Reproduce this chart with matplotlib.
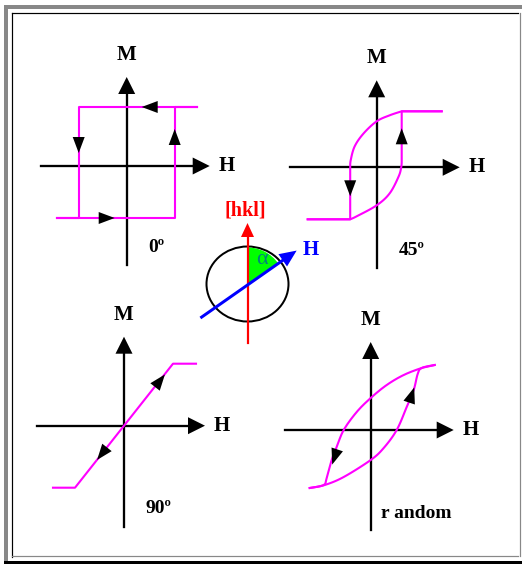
import matplotlib
matplotlib.use("Agg")
import matplotlib.pyplot as plt
import numpy as np
from matplotlib.patches import Ellipse, Rectangle, Wedge

# --- data: magnetisation loops (H, M) in pixel-sized units, origin at axes cross ---
loop0_up_H = [-70, 48, 48, 70]
loop0_up_M = [-52, -52, 59, 59]
loop0_down_H = [70, -48, -48, -70]
loop0_down_M = [59, 59, -52, -52]
loop0_arrows = [(23, 59, -1, 0), (-48, 21, 0, -1), (48, 29, 0, 1), (-20, -52, 1, 0)]

loop45_down_H = [65, 25, 13, 0, -13, -22, -26, -26.5, -26.5, -69]
loop45_down_M = [56, 56, 52, 46, 34, 21, 7, 0, -52, -52]
loop45_up_H = [-69, -26.5, -20, 0, 13, 22, 24.5, 25, 25, 65]
loop45_up_M = [-52, -52, -49, -38, -26, -9, 0, 5, 56, 56]
loop45_arrows = [(-26.5, -21, 0, -1), (25, 31, 0, 1)]

line90_H = [-71, -49, 49, 72]
line90_M = [-62, -62, 62, 62]
line90_arrows = [(36, 45, 49, 62), (-22, -28, -49, -62)]

rand_down_H = [64, 51, 33, 16, 0, -14, -27, -34, -39, -44, -47, -61]
rand_down_M = [65, 62, 55, 45, 32, 18, 0, -17, -30, -48, -55, -58]
rand_up_H = [-61, -46, -27, 0, 13, 26, 36, 43, 47, 51, 64]
rand_up_M = [-58, -55, -47, -30, -18, 0, 23, 40, 56, 62, 65]
rand_arrows = [(41, 35, 1, 3), (-36, -27, -1, -3)]

angle_labels = ["0º", "45º", "90º", "r andom"]
alpha_deg = 55  # angle between [hkl] and H

# --- layout (pixels) ---
W, HPX = 522, 564
MAGENTA = "#FF00FF"
PX = 72 / 100  # points per pixel
SERIF = "Liberation Serif"

fig = plt.figure(figsize=(W / 100, HPX / 100), dpi=100)

bg = fig.add_axes([0, 0, 1, 1])
bg.set_xlim(0, W)
bg.set_ylim(HPX, 0)
bg.axis("off")
gray = "#888888"
bg.add_patch(Rectangle((4, 5), 4, 556, color=gray, lw=0))
bg.add_patch(Rectangle((4, 5), 518, 4, color=gray, lw=0))
bg.add_patch(Rectangle((4, 561), 518, 3, color="black", lw=0))
bg.plot([12, 12], [13, 556.5], color="black", lw=1.2 * PX)
bg.plot([12, 517.5], [13, 13], color="black", lw=1.2 * PX)
bg.plot([519.5, 519.5], [13, 556], color=gray, lw=1.2 * PX)
bg.plot([12, 517.5], [556, 556], color=gray, lw=1.2 * PX)


def sub_axes(cx, cy, r=120):
    ax = fig.add_axes([(cx - r) / W, 1 - (cy + r) / HPX, 2 * r / W, 2 * r / HPX])
    ax.set_xlim(-r, r)
    ax.set_ylim(-r, r)
    ax.axis("off")
    return ax


def smooth(h, m, i0, i1, n=12):
    # Catmull-Rom through the read points i0..i1, straight elsewhere
    p = np.column_stack([h, m]).astype(float)
    out = [p[:i0]]
    for i in range(i0, i1):
        p0 = p[max(i - 1, i0)]
        p1, p2 = p[i], p[i + 1]
        p3 = p[min(i + 2, i1)]
        t = np.linspace(0, 1, n, endpoint=False)[:, None]
        seg = 0.5 * (2 * p1 + (-p0 + p2) * t + (2 * p0 - 5 * p1 + 4 * p2 - p3) * t ** 2
                     + (-p0 + 3 * p1 - 3 * p2 + p3) * t ** 3)
        out.append(seg)
    out.append(p[i1:])
    q = np.vstack(out)
    return q[:, 0], q[:, 1]


def head(ax, tip, direction, length, width, color="black"):
    tip = np.asarray(tip, float)
    d = np.asarray(direction, float)
    d = d / np.hypot(*d)
    n = np.array([-d[1], d[0]])
    base = tip - d * length
    pts = np.array([tip, base + n * width / 2, base - n * width / 2])
    ax.fill(pts[:, 0], pts[:, 1], color=color, lw=0, zorder=5)


def draw_panel(cx, cy, extent, branches, arrows, label, label_pos):
    ax = sub_axes(cx, cy)
    left, right, bottom, top = extent
    hl = 17
    ax.plot([left, right - hl + 2], [0, 0], color="black", lw=2.3 * PX)
    head(ax, (right, 0), (1, 0), hl, 17)
    ax.plot([0, 0], [bottom, top - hl + 2], color="black", lw=2.3 * PX)
    head(ax, (0, top), (0, 1), hl, 17)
    for hx, my in branches:
        ax.plot(hx, my, color=MAGENTA, lw=2.1 * PX, solid_joinstyle="round")
    for x, y, dx, dy in arrows:
        d = np.array([dx, dy], float)
        d /= np.hypot(*d)
        head(ax, (x + d[0] * 8, y + d[1] * 8), d, 16, 12)
    tf = dict(family=SERIF, weight="bold", fontsize=15, ha="center", va="center")
    ax.text(0, top + 22, "M", **tf)
    ax.text(right + 9, 0, "H", **dict(tf, ha="left"))
    ax.text(label_pos[0], label_pos[1], label, **dict(tf, fontsize=14))
    return ax


draw_panel(126.7, 166, (-86, 83, -99, 89),
           [(loop0_up_H, loop0_up_M), (loop0_down_H, loop0_down_M)],
           loop0_arrows, angle_labels[0], (30, -82))
draw_panel(376.7, 167.3, (-87, 83, -101, 87),
           [smooth(loop45_up_H, loop45_up_M, 1, 7), smooth(loop45_down_H, loop45_down_M, 1, 7)],
           loop45_arrows, angle_labels[1], (35, -83))
draw_panel(124, 425.7, (-87, 81, -101, 89),
           [(line90_H, line90_M)],
           line90_arrows, angle_labels[2], (34, -83))
draw_panel(370.7, 430, (-86, 83, -100, 88),
           [smooth(rand_up_H, rand_up_M, 0, 10), smooth(rand_down_H, rand_down_M, 0, 11)],
           rand_arrows, angle_labels[3], (46, -83))

# --- central sketch: crystal direction [hkl] and applied field H ---
cax = sub_axes(247.5, 284, r=80)
cax.add_patch(Ellipse((0, 0), 82, 75, fill=False, ec="black", lw=2 * PX, zorder=1))
a = np.deg2rad(alpha_deg)
hdir = np.array([np.sin(a), np.cos(a)])
cax.add_patch(Wedge((0, -1), 37.5, 90 - alpha_deg, 90, color="#00FF00", lw=0, zorder=2))
cax.plot([0, 0], [-59, 61 - 12], color="red", lw=2.2 * PX, zorder=3)
head(cax, (0, 61), (0, 1), 14, 13, color="red")
start = np.array([0, -1]) - hdir * 56
tip = np.array([0, -1]) + hdir * 60
cax.plot([start[0], tip[0] - hdir[0] * 12], [start[1], tip[1] - hdir[1] * 12],
         color="blue", lw=3 * PX, zorder=4)
head(cax, tip, hdir, 17, 15, color="blue")
cax.text(-2, 74, "[hkl]", family=SERIF, weight="bold", fontsize=14.5, color="red",
         ha="center", va="center")
cax.text(55, 34, "H", family=SERIF, weight="bold", fontsize=15, color="blue",
         ha="left", va="center")
cax.text(14, 24, "α", family=SERIF, fontsize=16, color="#008080",
         ha="center", va="center", zorder=6)

fig.savefig("out.png", dpi=100)
